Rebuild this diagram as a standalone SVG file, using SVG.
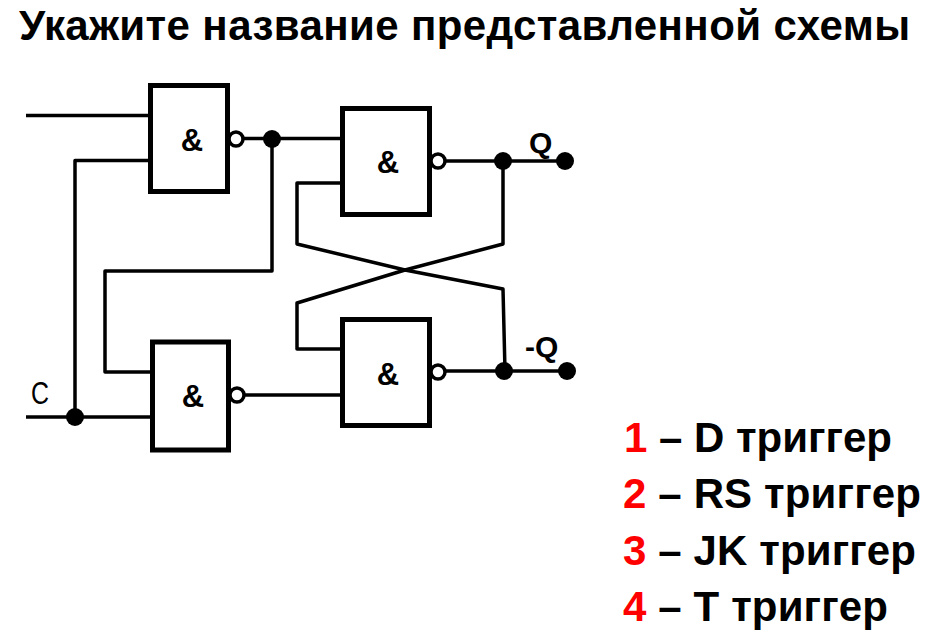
<svg xmlns="http://www.w3.org/2000/svg" width="931" height="631" viewBox="0 0 931 631">
<style>
.g{fill:#fff;stroke:#000;stroke-width:5}
.b{fill:#fff;stroke:#000;stroke-width:3.500}
.w{fill:none;stroke:#000;stroke-width:3.500;stroke-linejoin:round}
.d{fill:#000}
.l{font-family:"Liberation Sans",Arial,sans-serif;fill:#000}
.amp{font-size:31px;font-weight:700;text-anchor:middle}
.t{font-size:42px;font-weight:700}
.r{fill:#f00}
</style>
<rect width="931" height="631" fill="#fff"/>
<text class="l t" x="19" y="40" textLength="891" lengthAdjust="spacing">Укажите название представленной схемы</text>
<g id="connectors">
<path class="w" d="M26 115.500H150"/>
<path class="w" d="M150 160.500H75V417"/>
<path class="w" d="M26 417H152"/>
<path class="w" d="M242 138.500H340"/>
<path class="w" d="M272 139V271H105V372H152"/>
<path class="w" d="M340 183H297V244L405 270L503 289L505 371"/>
<path class="w" d="M503 161V244L405 270L297 303V349H340"/>
<path class="w" d="M243 395H340"/>
<path class="w" d="M444 161H565"/>
<path class="w" d="M444 371H567"/>
<circle class="d" cx="75" cy="417" r="9"/>
<circle class="d" cx="272" cy="139" r="9"/>
<circle class="d" cx="503" cy="161" r="9"/>
<circle class="d" cx="565" cy="161" r="9"/>
<circle class="d" cx="504" cy="371" r="9"/>
<circle class="d" cx="567" cy="371" r="9"/>
</g>
<g id="gate1"><circle class="b" cx="236" cy="139" r="7"/><rect class="g" x="150.500" y="85.500" width="77" height="106"/><text class="l amp" x="192" y="151">&amp;</text></g>
<g id="gate2"><circle class="b" cx="237" cy="395" r="7"/><rect class="g" x="152.500" y="342" width="76" height="108"/><text class="l amp" x="193" y="407">&amp;</text></g>
<g id="gate3"><circle class="b" cx="438" cy="161" r="7"/><rect class="g" x="342.500" y="108.500" width="87" height="106"/><text class="l amp" x="388" y="173">&amp;</text></g>
<g id="gate4"><circle class="b" cx="438" cy="372" r="7"/><rect class="g" x="342.500" y="319.500" width="87" height="106"/><text class="l amp" x="388" y="385">&amp;</text></g>
<g id="labels">
<text class="l" x="529" y="153" font-size="30" font-weight="700">Q</text>
<text class="l" x="525" y="357" font-size="30" font-weight="700">-Q</text>
<text class="l" x="31" y="404" font-size="31" textLength="18" lengthAdjust="spacingAndGlyphs">C</text>
</g>
<g id="options">
<text class="l t" x="624" y="452" textLength="268" lengthAdjust="spacing"><tspan class="r">1</tspan> – D триггер</text>
<text class="l t" x="623" y="508" textLength="298" lengthAdjust="spacing"><tspan class="r">2</tspan> – RS триггер</text>
<text class="l t" x="623" y="565" textLength="293" lengthAdjust="spacing"><tspan class="r">3</tspan> – JK триггер</text>
<text class="l t" x="623" y="621" textLength="265" lengthAdjust="spacing"><tspan class="r">4</tspan> – T триггер</text>
</g>
</svg>
